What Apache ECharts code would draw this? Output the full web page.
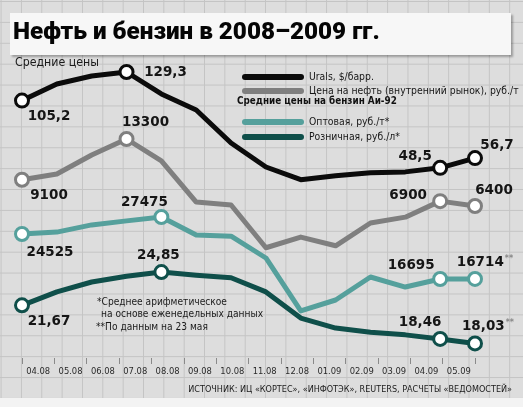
<!DOCTYPE html>
<html>
<head>
<meta charset="utf-8">
<script src="https://cdn.jsdelivr.net/npm/echarts@6/dist/echarts.min.js"></script>
<style>
  html, body { margin: 0; padding: 0; background: #f3f3f3; }
  #paper {
    position: absolute; left: 0; top: 0; width: 523px; height: 398px;
    background-color: #dddddd;
    background-image:
      linear-gradient(to right, #c4c4c4 1px, transparent 1px),
      linear-gradient(to bottom, #c4c4c4 1px, transparent 1px);
    background-size: 20.35px 20.9px;
    background-position: 0.6px 1px;
  }
  #chart { position: absolute; left: 0; top: 0; width: 523px; height: 407px; }
</style>
</head>
<body>
<div id="paper"></div>
<div id="chart"></div>
<script>
// ---- data ----
const months = ['04.08','05.08','06.08','07.08','08.08','09.08','10.08','11.08','12.08','01.09','02.09','03.09','04.09','05.09'];
const urals = [105.2,119.2,125.9,129.3,110.8,97.3,69.4,49.2,38.5,41.9,44.4,45.1,48.5,56.7];
const oilRub = [9100,9700,11650,13300,11050,6800,6500,2100,3200,2300,4650,5250,6900,6400];
const wholesale = [24525,24850,26100,26800,27475,24350,24150,20350,11150,13050,17050,15300,16695,16714];
const retail = [21.67,22.95,23.9,24.45,24.85,24.55,24.3,22.95,20.45,19.5,19.1,18.85,18.46,18.03];
const seriesNames = ['Urals, $/барр.', 'Цена на нефть (внутренний рынок), руб./т', 'Оптовая, руб./т*', 'Розничная, руб./л*'];
const titleText = 'Нефть и бензин в 2008–2009 гг.';
const subTitle = 'Средние цены';
const gasHeader = 'Средние цены на бензин Аи-92';
const notes = ['*Среднее арифметическое', 'на основе еженедельных данных', '**По данным на 23 мая'];
const sourceText = 'ИСТОЧНИК: ИЦ «КОРТЕС», «ИНФОТЭК», REUTERS, РАСЧЕТЫ «ВЕДОМОСТЕЙ»';
const starred = { 2: [13], 3: [13] };   // series index -> point indices with "**"

// ---- fonts: pick a condensed face if installed, and size texts to the reference widths ----
const mctx = document.createElement('canvas').getContext('2d');
function fontAvailable(name) {
  const s = 'Цена на нефть 0123456789 mmmwwwlliiAB';
  for (const base of ['monospace', 'serif']) {
    mctx.font = '40px ' + base; const w0 = mctx.measureText(s).width;
    mctx.font = "40px '" + name + "', " + base; const w1 = mctx.measureText(s).width;
    if (Math.abs(w0 - w1) > 0.5) return true;
  }
  return false;
}
const narrowName = ['Liberation Sans Narrow', 'DejaVu Sans Condensed', 'Roboto Condensed', 'Arial Narrow'].find(fontAvailable) || 'Liberation Sans';
const NARROW = "'" + narrowName + "', sans-serif";
const TITLEF = "Roboto, 'Liberation Sans', sans-serif";
const NUMF = "'DejaVu Sans', sans-serif";
function fit(text, weight, family, target, maxSize) {
  mctx.font = weight + ' 40px ' + family;
  return Math.min(maxSize, 40 * target / mctx.measureText(text).width);
}
const legendSize = fit(seriesNames[1], 'normal', NARROW, 210, 12.5);
const headerSize = fit(gasHeader, 'bold', NARROW, 160, 12.5);
const subSize = fit(subTitle, 'normal', NARROW, 84, 14);
const noteSize = fit(notes[0], 'normal', NARROW, 130, 12);
const sourceSize = fit(sourceText, 'normal', NARROW, 324, 11);
const tickSize = fit(months[0], 'normal', NARROW, 24, 11.5);
const titleSize = fit(titleText, '900', TITLEF, 367, 26);

const colors = ['#0b0b0b', '#7f7f7f', '#55a09c', '#0f4f4a'];

// label placement (offset from point centre) for key points
const labelPlace = [
  {0: [27, 16], 3: [39, 0], 12: [-25, -11], 13: [22, -13]},
  {0: [27, 16], 3: [19, -17], 12: [-32, -6], 13: [19, -15]},
  {0: [28, 19], 4: [-17, -15], 12: [-29, -14], 13: [10, -16]},
  {0: [27, 16], 4: [-3, -17], 12: [-20, -16], 13: [13, -17]}
];

function fmt(v) { return String(v).replace('.', ','); }

function buildSeries(idx, values) {
  const c = colors[idx];
  const place = labelPlace[idx];
  const stars = starred[idx] || [];
  const data = values.map((v, i) => {
    if (!(i in place)) return v;
    const star = stars.indexOf(i) >= 0;
    return {
      value: v,
      symbol: 'circle',
      symbolSize: 13,
      itemStyle: { color: '#ffffff', borderColor: c, borderWidth: 3 },
      label: {
        show: true,
        position: 'inside',
        offset: place[i],
        formatter: star ? '{a|' + fmt(v) + '}{b|**}' : '{a|' + fmt(v) + '}',
        rich: {
          a: { fontFamily: NUMF, fontWeight: 'bold', fontSize: 13.5, color: '#151515' },
          b: { fontFamily: NUMF, fontWeight: 'bold', fontSize: 8, color: '#888', padding: [0, 0, 7, 1] }
        }
      }
    };
  });
  return {
    type: 'line',
    name: seriesNames[idx],
    xAxisIndex: 0,
    yAxisIndex: idx,
    color: c,
    symbol: 'none',
    lineStyle: { color: c, width: 5, cap: 'round', join: 'round' },
    data: data,
    z: 10 - idx
  };
}

const pill = 'path://M3,0L59,0A3,3,0,0,1,59,6L3,6A3,3,0,0,1,3,0Z';
const txt = (x, y, text, size, extra) => ({
  type: 'text', x: x, y: y, z: 5,
  style: Object.assign({ text: text, fontFamily: NARROW, fontSize: size, fill: '#1a1a1a', textVerticalAlign: 'middle' }, extra || {})
});

const chart = echarts.init(document.getElementById('chart'), null, { renderer: 'canvas' });
chart.setOption({
  animation: false,
  backgroundColor: 'transparent',
  grid: { left: 22, right: 48, top: 60, bottom: 49, containLabel: false },
  xAxis: [
    { type: 'category', data: months, boundaryGap: false, show: false },
    {
      type: 'category', data: months, boundaryGap: true, position: 'bottom',
      axisLine: { show: false, onZero: false },
      axisTick: { show: true, length: 6, lineStyle: { color: '#8a8a8a', width: 1 } },
      axisLabel: { interval: 0, margin: 9, fontFamily: NARROW, fontSize: tickSize, color: '#2a2a2a' },
      splitLine: { show: false }
    }
  ],
  yAxis: [
    { type: 'value', show: false, min: -111.8, max: 139.42 },
    { type: 'value', show: false, min: -9257, max: 21437 },
    { type: 'value', show: false, min: 2970, max: 54762 },
    { type: 'value', show: false, min: 16.64, max: 45.10 }
  ],
  legend: [
    {
      data: seriesNames.slice(0, 2), orient: 'vertical', left: 237, top: 65,
      icon: pill, itemWidth: 62, itemHeight: 6, itemGap: 0,
      textStyle: { fontFamily: NARROW, fontSize: legendSize, color: '#161616', lineHeight: 14 }
    },
    {
      data: seriesNames.slice(2, 4), orient: 'vertical', left: 237, top: 110,
      icon: pill, itemWidth: 62, itemHeight: 6, itemGap: 1,
      textStyle: { fontFamily: NARROW, fontSize: legendSize, color: '#161616', lineHeight: 14 }
    }
  ],
  graphic: [
    {
      type: 'rect', left: 10, top: 13, z: 0,
      shape: { width: 501, height: 42 },
      style: { fill: '#f7f7f7', shadowColor: 'rgba(0,0,0,0.3)', shadowBlur: 2, shadowOffsetX: 1.5, shadowOffsetY: 1.5 }
    },
    {
      type: 'text', x: 13, y: 33, z: 1,
      style: { text: titleText, font: '900 ' + titleSize.toFixed(2) + 'px ' + TITLEF, fill: '#050505', textVerticalAlign: 'middle' }
    },
    txt(15, 63, subTitle, subSize),
    txt(237, 101, gasHeader, headerSize, { fontWeight: 'bold', fill: '#111' }),
    txt(97, 302, notes[0], noteSize),
    txt(101, 314, notes[1], noteSize),
    txt(96, 327, notes[2], noteSize),
    txt(512, 390, sourceText, sourceSize, { textAlign: 'right' })
  ],
  series: [
    buildSeries(0, urals),
    buildSeries(1, oilRub),
    buildSeries(2, wholesale),
    buildSeries(3, retail)
  ]
});
</script>
</body>
</html>
